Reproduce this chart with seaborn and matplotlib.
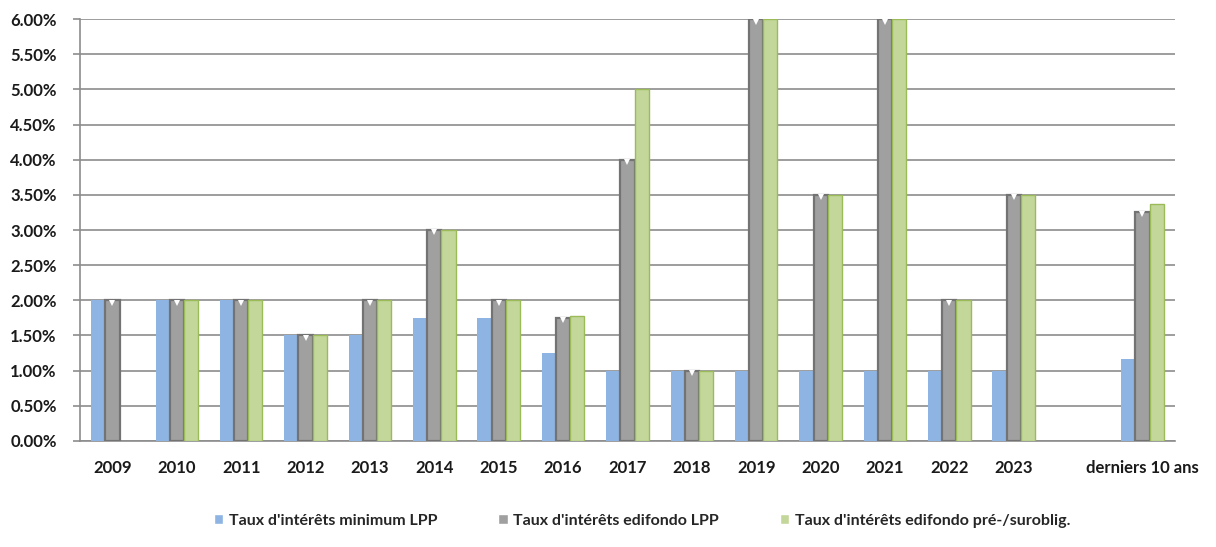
import matplotlib
matplotlib.use("Agg")
import matplotlib.pyplot as plt
import matplotlib.ticker as mticker
import seaborn as sns
import numpy as np
import pandas as pd

# categories (empty slot before the 10-year average, like the original)
categories = ["2009", "2010", "2011", "2012", "2013", "2014", "2015", "2016",
              "2017", "2018", "2019", "2020", "2021", "2022", "2023", " ", "derniers 10 ans"]

series_names = ["Taux d'intérêts minimum LPP",
                "Taux d'intérêts edifondo LPP",
                "Taux d'intérêts edifondo pré-/suroblig."]

minimum_lpp = [2.00, 2.00, 2.00, 1.50, 1.50, 1.75, 1.75, 1.25, 1.00, 1.00,
               1.00, 1.00, 1.00, 1.00, 1.00, np.nan, 1.17]
edifondo_lpp = [2.00, 2.00, 2.00, 1.50, 2.00, 3.00, 2.00, 1.75, 4.00, 1.00,
                6.00, 3.50, 6.00, 2.00, 3.50, np.nan, 3.26]
edifondo_pre = [np.nan, 2.00, 2.00, 1.50, 2.00, 3.00, 2.00, 1.77, 5.00, 1.00,
                6.00, 3.50, 6.00, 2.00, 3.50, np.nan, 3.37]

colors = ["#8db4e2", "#a0a0a0", "#c4d79b"]
edges = ["#8db4e2", "#737373", "#9bbb59"]

rows = []
for name, vals in zip(series_names, [minimum_lpp, edifondo_lpp, edifondo_pre]):
    for c, v in zip(categories, vals):
        rows.append({"annee": c, "serie": name, "taux": v})
df = pd.DataFrame(rows)

sns.set_style("white")
plt.rcParams["font.family"] = ["Lato", "DejaVu Sans"]

fig = plt.figure(figsize=(12.16, 5.47), dpi=100)
ax = fig.add_axes([0.066, 0.194, 0.9, 0.771])

sns.barplot(data=df, x="annee", y="taux", hue="serie", order=categories,
            hue_order=series_names, palette=colors, width=0.66,
            saturation=1, errorbar=None, ax=ax, zorder=3)

# edge colours per series
n = len(categories)
for i, cont in enumerate(ax.containers):
    for bar in cont:
        bar.set_edgecolor(edges[i])
        bar.set_linewidth([0, 1.6, 1.0][i])

# little white notch on top of the grey bars
for bar in ax.containers[1]:
    h = bar.get_height()
    if np.isfinite(h) and h > 0:
        ax.plot(bar.get_x() + bar.get_width() / 2, h - 0.035, marker="v",
                color="white", markersize=4.5, markeredgewidth=0, zorder=5,
                clip_on=False)

ax.set_ylim(0, 6)
ax.set_xlim(-0.5, n - 0.5)
ax.yaxis.set_major_locator(mticker.MultipleLocator(0.5))
ax.yaxis.set_major_formatter(mticker.FuncFormatter(lambda v, p: f"{v:.2f}%"))
ax.grid(axis="y", color="#8c8c8c", linewidth=1.2, zorder=0)
ax.set_axisbelow(True)

for s in ["top", "right"]:
    ax.spines[s].set_visible(False)
for s in ["left", "bottom"]:
    ax.spines[s].set_color("#8c8c8c")
    ax.spines[s].set_linewidth(1.2)

ax.set_xticks(np.arange(-0.5, n, 1.0), minor=True)
ax.tick_params(axis="x", which="minor", length=5, color="#8c8c8c", width=1.2)
ax.tick_params(axis="x", which="major", length=0, pad=14)
ax.tick_params(axis="y", length=5, color="#8c8c8c", width=1.2, direction="out",
               left=True, pad=12)
for lab in ax.get_xticklabels() + ax.get_yticklabels():
    lab.set_fontweight("bold")
    lab.set_fontsize(12)
    lab.set_color("#1a1a1a")

ax.set_xlabel("")
ax.set_ylabel("")

handles, labels = ax.get_legend_handles_labels()
ax.legend_.remove()
fig.legend(handles, labels, loc="center", bbox_to_anchor=(0.528, 0.048), ncol=3,
           frameon=False, handlelength=0.6, handleheight=0.6, handletextpad=0.35,
           columnspacing=3.8, prop={"weight": "bold", "size": 11.5})

fig.savefig("out.png", dpi=100)
